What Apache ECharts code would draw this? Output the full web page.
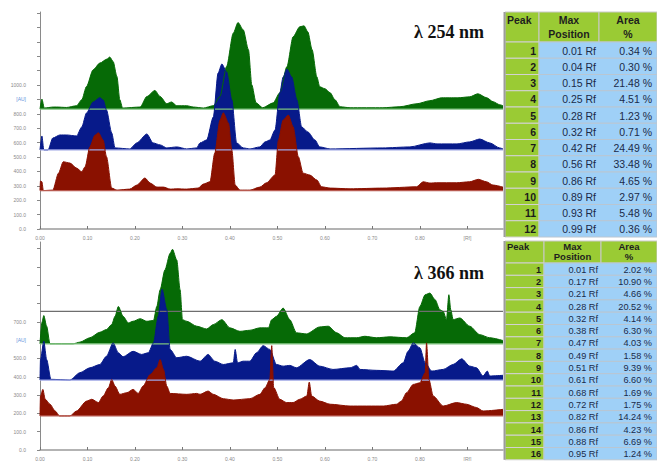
<!DOCTYPE html>
<html>
<head>
<meta charset="utf-8">
<script src="https://cdn.jsdelivr.net/npm/echarts@6/dist/echarts.min.js"></script>
<style>
html,body{margin:0;padding:0;background:#fff;}
#chart{width:657px;height:461px;}
</style>
</head>
<body>
<div id="chart"></div>
<script>
// ---------- DATA ----------
// x-axis tick labels (Rf), index = value*10
const xTickLabels = ['0.00','0.10','0.20','0.30','0.40','0.50','0.60','0.70','0.80','[Rf]'];
// y-axis tick labels (AU), index = value/100
const yLabels254 = ['0.0','100.0','200.0','300.0','400.0','500.0','600.0','700.0','800.0','[AU]','1000.0'];
const yLabels366 = ['0.0','100.0','200.0','300.0','400.0','500.0','[AU]','700.0'];

// track baselines (AU offsets of the stacked tracks)
const base254 = {green: 833, blue: 549, red: 267};
const base366 = {green: 580, blue: 382, red: 186, line: 757};

// densitograms at 254 nm: [Rf, signal AU above the track baseline]
const green254 = [[0,0],[0.004,69],[0.009,7],[0.028,14],[0.035,14],[0.056,11],[0.077,23],[0.088,65],[0.098,157],[0.112,273],[0.126,319],[0.141,347],[0.147,361],[0.154,330],[0.162,226],[0.168,65],[0.174,7],[0.211,14],[0.225,87],[0.242,129],[0.253,87],[0.267,37],[0.277,49],[0.288,23],[0.309,23],[0.323,14],[0.344,7],[0.365,23],[0.379,87],[0.393,296],[0.407,527],[0.417,601],[0.428,550],[0.439,411],[0.446,168],[0.455,43],[0.469,9],[0.491,43],[0.505,113],[0.520,294],[0.533,502],[0.547,571],[0.556,578],[0.564,536],[0.573,412],[0.583,224],[0.589,155],[0.600,141],[0.611,113],[0.621,65],[0.632,16],[0.653,9],[0.722,9],[0.758,16],[0.794,37],[0.821,58],[0.846,78],[0.863,78],[0.880,78],[0.905,85],[0.922,106],[0.941,78],[0.954,51],[0.968,30],[0.975,23]];
const blue254 = [[0,0],[0.004,97],[0.008,0],[0.017,0],[0.027,83],[0.042,104],[0.056,104],[0.077,97],[0.088,160],[0.098,257],[0.112,333],[0.126,363],[0.133,347],[0.140,278],[0.151,118],[0.158,14],[0.189,7],[0.204,49],[0.225,111],[0.238,49],[0.253,35],[0.267,14],[0.288,21],[0.309,7],[0.330,14],[0.337,49],[0.351,69],[0.365,229],[0.375,534],[0.383,597],[0.393,541],[0.404,347],[0.414,49],[0.428,14],[0.442,7],[0.463,21],[0.474,56],[0.484,69],[0.495,139],[0.505,396],[0.512,507],[0.520,562],[0.530,507],[0.541,347],[0.551,160],[0.564,125],[0.579,69],[0.589,21],[0.611,7],[0.722,14],[0.779,21],[0.821,49],[0.836,42],[0.878,42],[0.905,56],[0.926,76],[0.947,49],[0.968,14],[0.975,7]];
const red254 = [[0,0],[0.001,66],[0.004,61],[0.007,0],[0.027,3],[0.039,121],[0.049,200],[0.063,191],[0.077,156],[0.088,130],[0.095,165],[0.105,304],[0.116,385],[0.123,401],[0.133,350],[0.140,235],[0.151,17],[0.162,3],[0.189,10],[0.204,38],[0.221,87],[0.232,52],[0.246,24],[0.260,24],[0.274,10],[0.288,12],[0.309,10],[0.333,17],[0.344,45],[0.358,61],[0.368,260],[0.379,489],[0.386,540],[0.397,468],[0.404,281],[0.411,38],[0.421,3],[0.442,3],[0.463,24],[0.477,54],[0.495,108],[0.502,350],[0.512,489],[0.523,524],[0.533,443],[0.544,235],[0.554,121],[0.568,108],[0.583,73],[0.593,26],[0.611,17],[0.653,12],[0.722,17],[0.793,26],[0.807,61],[0.821,52],[0.835,54],[0.877,54],[0.905,61],[0.923,78],[0.940,61],[0.954,38],[0.975,24]];

// densitograms at 366 nm
const green366 = [[0,0],[0.004,116],[0.008,154],[0.014,96],[0.021,0],[0.070,0],[0.084,9],[0.105,33],[0.126,63],[0.140,78],[0.151,105],[0.158,150],[0.165,204],[0.175,150],[0.186,114],[0.196,123],[0.211,137],[0.225,123],[0.239,127],[0.246,204],[0.253,295],[0.263,403],[0.274,494],[0.279,516],[0.288,458],[0.295,295],[0.300,132],[0.309,123],[0.330,96],[0.351,81],[0.365,105],[0.383,132],[0.400,87],[0.421,68],[0.442,74],[0.463,87],[0.481,87],[0.488,132],[0.498,150],[0.512,195],[0.526,132],[0.540,60],[0.561,54],[0.589,92],[0.607,96],[0.625,60],[0.642,33],[0.667,33],[0.684,41],[0.709,33],[0.737,38],[0.772,33],[0.789,60],[0.800,204],[0.811,268],[0.821,277],[0.832,241],[0.842,186],[0.849,177],[0.856,132],[0.861,268],[0.865,186],[0.870,132],[0.884,141],[0.905,96],[0.926,50],[0.947,33],[0.975,18]];
const blue366 = [[0,0],[0.001,112],[0.008,212],[0.014,112],[0.023,4],[0.063,0],[0.084,40],[0.105,67],[0.126,85],[0.140,130],[0.154,203],[0.165,149],[0.175,127],[0.196,157],[0.214,140],[0.228,149],[0.239,203],[0.249,348],[0.257,496],[0.267,384],[0.274,167],[0.288,122],[0.309,130],[0.337,103],[0.354,140],[0.368,103],[0.386,85],[0.407,94],[0.411,167],[0.416,94],[0.428,103],[0.442,103],[0.456,149],[0.470,188],[0.484,167],[0.498,85],[0.512,76],[0.526,80],[0.540,67],[0.568,112],[0.589,76],[0.617,58],[0.653,67],[0.667,80],[0.674,58],[0.709,53],[0.744,49],[0.765,94],[0.775,157],[0.786,203],[0.800,176],[0.811,94],[0.825,49],[0.849,58],[0.870,85],[0.888,116],[0.905,76],[0.919,67],[0.933,22],[0.942,49],[0.947,22],[0.975,26]];
const red366 = [[0,0],[0.001,109],[0.006,145],[0.011,91],[0.021,64],[0.032,27],[0.041,0],[0.063,0],[0.077,27],[0.098,81],[0.109,91],[0.123,73],[0.133,109],[0.144,154],[0.151,199],[0.158,163],[0.168,118],[0.183,127],[0.196,145],[0.207,123],[0.217,163],[0.232,226],[0.246,263],[0.253,308],[0.260,254],[0.267,163],[0.274,123],[0.309,118],[0.330,123],[0.337,118],[0.354,136],[0.365,118],[0.386,94],[0.407,87],[0.442,94],[0.463,118],[0.474,154],[0.484,199],[0.488,384],[0.492,156],[0.505,91],[0.519,73],[0.533,73],[0.547,91],[0.562,109],[0.567,185],[0.572,109],[0.589,81],[0.611,64],[0.653,54],[0.723,54],[0.751,64],[0.761,81],[0.772,127],[0.786,172],[0.800,181],[0.811,236],[0.814,399],[0.819,199],[0.828,109],[0.849,54],[0.877,73],[0.898,64],[0.919,46],[0.933,27],[0.975,36]];

// peak tables
const table254Peak = ['1','2','3','4','5','6','7','8','9','10','11','12'];
const table254Max  = ['0.01','0.04','0.15','0.25','0.28','0.32','0.42','0.56','0.86','0.89','0.93','0.99'];
const table254Area = ['0.34','0.30','21.48','4.51','1.23','0.71','24.49','33.48','4.65','2.97','5.48','0.36'];
const table366Peak = ['1','2','3','4','5','6','7','8','9','10','11','12','13','14','15','16'];
const table366Max  = ['0.01','0.17','0.21','0.28','0.32','0.38','0.47','0.49','0.51','0.61','0.68','0.72','0.82','0.86','0.88','0.95'];
const table366Area = ['2.02','10.90','4.66','20.52','4.14','6.30','4.03','1.58','9.39','6.60','1.69','1.75','14.24','4.23','6.69','1.24'];

const titles = ['λ 254 nm', 'λ 366 nm'];

// ---------- STYLE ----------
const C = {green:'#066a06', blue:'#071a8a', red:'#8a1100',
  greenBase:'#7cc27c', blueBase:'#9ea6e4', redBase:'#b85a50'};
const X_MAX = 0.975;

const chart = echarts.init(document.getElementById('chart'), null, {renderer:'svg'});

function trackSeries(data, base, color, baseColor, gi, name){
  return [{
    name: name, type:'line', xAxisIndex:gi, yAxisIndex:gi,
    data: data.map(p => [p[0], base + p[1]]),
    showSymbol:false, smooth:0.25, smoothMonotone:'x', silent:true,
    lineStyle:{color:color, width:1},
    areaStyle:{color:color, opacity:1, origin: base}
  },{
    name: name + ' baseline', type:'line', xAxisIndex:gi, yAxisIndex:gi,
    data: [[0, base],[X_MAX, base]],
    showSymbol:false, silent:true,
    lineStyle:{color:baseColor, width:1.2}
  }];
}

const axisLabelStyle = {fontSize:5, color:'#8a8a8a', fontFamily:'Liberation Sans'};

function xAxis(gi){
  return {type:'value', gridIndex:gi, min:0, max:X_MAX, interval:0.1,
    axisLine:{show:true, lineStyle:{color:'#9a9a9a', width:1.5}},
    axisTick:{show:true, inside:true, length:3, lineStyle:{color:'#777'}},
    splitLine:{show:false},
    axisLabel:Object.assign({margin:6, showMaxLabel:false,
      formatter: v => xTickLabels[Math.round(v*10)] || ''}, axisLabelStyle)};
}
function yAxis(gi, max, labels){
  return {type:'value', gridIndex:gi, min:0, max:max, interval:100,
    axisLine:{show:true, lineStyle:{color:'#8a8a8a', width:1}},
    axisTick:{show:true, length:3, lineStyle:{color:'#888'}},
    splitLine:{show:false},
    axisLabel:Object.assign({margin:14, showMaxLabel:false,
      formatter: v => { const s = labels[Math.round(v/100)]; if(!s) return ''; return s === '[AU]' ? '{au|[AU]}' : s; },
      rich:{au:{fontSize:5, color:'#5f93dc', fontFamily:'Liberation Sans'}}}, axisLabelStyle)};
}

// ---------- TABLES (graphic) ----------
const GREEN_CELL = '#9acb34', BLUE_CELL = '#9fd0f7';
function buildTable(cfg){
  const els = [];
  const cols = cfg.cols; // [x0,x1,x2,x3]
  const hdrFont = 'bold ' + cfg.hfs + 'px "Liberation Sans", Arial, sans-serif';
  const cellFont = cfg.fs + 'px "Liberation Sans", Arial, sans-serif';
  const boldCell = 'bold ' + cfg.fs + 'px "Liberation Sans", Arial, sans-serif';
  for(let c=0;c<3;c++){
    els.push({type:'rect', silent:true, shape:{x:cols[c], y:cfg.y0, width:cols[c+1]-cols[c], height:cfg.hh},
      style:{fill:GREEN_CELL, stroke:'#c9c9c9', lineWidth:1}});
  }
  const l1 = cfg.y0 + cfg.hh*0.27, l2 = cfg.y0 + cfg.hh*0.72;
  els.push({type:'text', silent:true, style:{text:'Peak', x:cols[0]+2, y:l1, font:hdrFont, fill:'#1e1e1e', align:'left', verticalAlign:'middle', textAlign:'left', textVerticalAlign:'middle'}});
  const mx = (cols[1]+cols[2])/2, ax = (cols[2]+cols[3])/2;
  [['Max',mx,l1],['Position',mx,l2],['Area',ax,l1],['%',ax,l2]].forEach(t => {
    els.push({type:'text', silent:true, style:{text:t[0], x:t[1], y:t[2], font:hdrFont, fill:'#1e1e1e', align:'center', verticalAlign:'middle', textAlign:'center', textVerticalAlign:'middle'}});
  });
  cfg.peak.forEach((p,i) => {
    const y = cfg.y0 + cfg.hh + i*cfg.rh;
    els.push({type:'rect', silent:true, shape:{x:cols[0], y:y, width:cols[1]-cols[0], height:cfg.rh},
      style:{fill:GREEN_CELL, stroke:'#d2d2d2', lineWidth:1}});
    els.push({type:'rect', silent:true, shape:{x:cols[1], y:y, width:cols[3]-cols[1], height:cfg.rh},
      style:{fill:BLUE_CELL, stroke:'#b9c6d2', lineWidth:1}});
    const yc = y + cfg.rh/2 + 0.5;
    els.push({type:'text', silent:true, style:{text:p, x:cols[1]-3, y:yc, font:boldCell, fill:'#1a1a1a', align:'right', verticalAlign:'middle', textAlign:'right', textVerticalAlign:'middle'}});
    els.push({type:'text', silent:true, style:{text:cfg.max[i] + ' Rf', x:cols[2]-3, y:yc, font:cellFont, fill:'#1b2a48', align:'right', verticalAlign:'middle', textAlign:'right', textVerticalAlign:'middle'}});
    els.push({type:'text', silent:true, style:{text:cfg.area[i] + ' %', x:cols[3]-5, y:yc, font:cellFont, fill:'#1b2a48', align:'right', verticalAlign:'middle', textAlign:'right', textVerticalAlign:'middle'}});
  });
  const yEnd = cfg.y0 + cfg.hh + cfg.peak.length*cfg.rh;
  els.push({type:'line', silent:true, shape:{x1:cols[0]-0.5, y1:cfg.y0, x2:cols[0]-0.5, y2:yEnd},
    style:{stroke:'#9c9c9c', lineWidth:2}});
  return els;
}

const graphics = []
  .concat(buildTable({cols:[505,539,599,657], y0:12, hh:30, rh:16.25, hfs:10.5, fs:10.5,
    peak:table254Peak, max:table254Max, area:table254Area}))
  .concat(buildTable({cols:[505,544,601,657], y0:241, hh:22, rh:12.3, hfs:9.5, fs:9.2,
    peak:table366Peak, max:table366Max, area:table366Area}))
  .concat([
    {type:'text', silent:true, style:{text:titles[0], x:449, y:32, font:'bold 18px "Liberation Serif", "Times New Roman", serif', fill:'#111', align:'center', verticalAlign:'middle', textAlign:'center', textVerticalAlign:'middle'}},
    {type:'text', silent:true, style:{text:titles[1], x:449, y:273, font:'bold 18px "Liberation Serif", "Times New Roman", serif', fill:'#111', align:'center', verticalAlign:'middle', textAlign:'center', textVerticalAlign:'middle'}}
  ]);

const series = []
  .concat(trackSeries(green254, base254.green, C.green, C.greenBase, 0, 'green 254'))
  .concat(trackSeries(blue254, base254.blue, C.blue, C.blueBase, 0, 'blue 254'))
  .concat(trackSeries(red254, base254.red, C.red, C.redBase, 0, 'red 254'))
  .concat([{
    name:'reference line 366', type:'line', xAxisIndex:1, yAxisIndex:1,
    data:[[0, base366.line],[X_MAX, base366.line]], showSymbol:false, silent:true,
    lineStyle:{color:'#6e6e6e', width:1.2}
  }])
  .concat(trackSeries(green366, base366.green, C.green, C.greenBase, 1, 'green 366'))
  .concat(trackSeries(blue366, base366.blue, C.blue, C.blueBase, 1, 'blue 366'))
  .concat(trackSeries(red366, base366.red, C.red, C.redBase, 1, 'red 366'));

chart.setOption({
  backgroundColor:'#ffffff',
  animation:false,
  grid:[
    {left:40, top:12, width:463, height:217},
    {left:40, top:242, width:463, height:209}
  ],
  xAxis:[xAxis(0), xAxis(1)],
  yAxis:[yAxis(0, 1507, yLabels254), yAxis(1, 1136, yLabels366)],
  series: series,
  graphic: graphics
});
</script>
</body>
</html>
